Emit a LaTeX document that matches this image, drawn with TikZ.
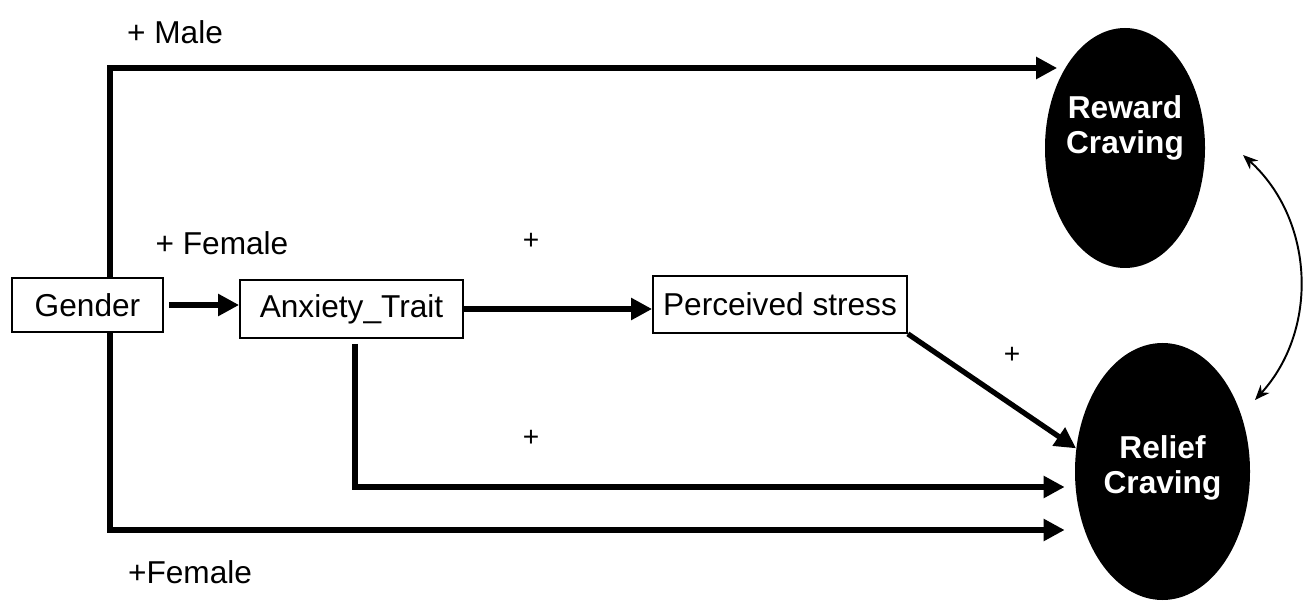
\documentclass[tikz,border=0pt]{standalone}
\usepackage{fontspec}
\setmainfont{Liberation Sans}
\usetikzlibrary{arrows.meta, shapes.geometric}

\begin{document}
\begin{tikzpicture}[>={Triangle[length=0.42cm, width=0.42cm]},
    var/.style={draw, line width=1pt, inner sep=0pt, font=\fontsize{18}{20}\selectfont},
    craving/.style={ellipse, fill=black, inner sep=0pt},
    cravetext/.style={text=white, align=center, font=\bfseries\fontsize{18}{20}\selectfont},
    effect/.style={->, line width=3pt},
    sign/.style={font=\fontsize{18}{20}\selectfont},
    plus/.style={font=\fontsize{16}{18}\selectfont}]
    \useasboundingbox (0,0) rectangle (26.12,12.06);

    % Variables
    \node[var, minimum width=3.02cm, minimum height=1.08cm] (gender) at (1.75,5.96) {Gender};
    \node[var, minimum width=4.46cm, minimum height=1.16cm] (anxiety) at (7.03,5.88) {Anxiety\_Trait};
    \node[var, minimum width=5.08cm, minimum height=1.14cm] (stress) at (15.6,5.97) {Perceived stress};

    % Cravings
    \node[craving, minimum width=3.2cm, minimum height=4.8cm] (reward) at (22.5,9.1) {};
    \node[cravetext] (rewardtext) at (22.5,9.5) {Reward\\Craving};
    \node[craving, minimum width=3.5cm, minimum height=5.14cm] (relief) at (23.25,2.63) {};
    \node[cravetext] (relieftext) at (23.25,2.7) {Relief\\Craving};

    % Corners
    \coordinate (maletop) at (2.2,10.7);
    \coordinate (femalebot) at (2.2,1.46);
    \coordinate (anxbot) at (7.1,2.32);
    \coordinate (covtop) at (24.86,8.96);
    \coordinate (covbot) at (25.1,4.06);

    % Paths
    \draw[effect] (gender.north -| maletop) -- (maletop) -- ([xshift=0.25cm]maletop -| reward.west);
    \draw[effect] (gender.south -| femalebot) -- (femalebot) -- ([xshift=-0.2cm]femalebot -| relief.west);
    \draw[effect] ([xshift=0.1cm]gender.east) -- (gender.east -| anxiety.west);
    \draw[effect] (anxiety.east) -- (anxiety.east -| stress.west);
    \draw[effect] ([yshift=-0.1cm]anxiety.south -| anxbot) -- (anxbot) -- ([xshift=-0.2cm]anxbot -| relief.west);
    \draw[effect] (stress.south east) -- (relief.165);
    \draw[<->, line width=1.1pt, >={Stealth[length=0.3cm, width=0.24cm]}] (covtop) to[bend left=45] (covbot);

    % Signs
    \node[sign] (malelbl) at (3.5,11.42) {+ Male};
    \node[sign] (femalelbl) at (4.44,7.2) {+ Female};
    \node[sign] (femalebotlbl) at (3.8,0.62) {+Female};
    \node[plus] (stressplus) at (10.62,7.24) {+};
    \node[plus] (reliefplus) at (20.24,4.96) {+};
    \node[plus] (anxplus) at (10.62,3.3) {+};
\end{tikzpicture}
\end{document}
